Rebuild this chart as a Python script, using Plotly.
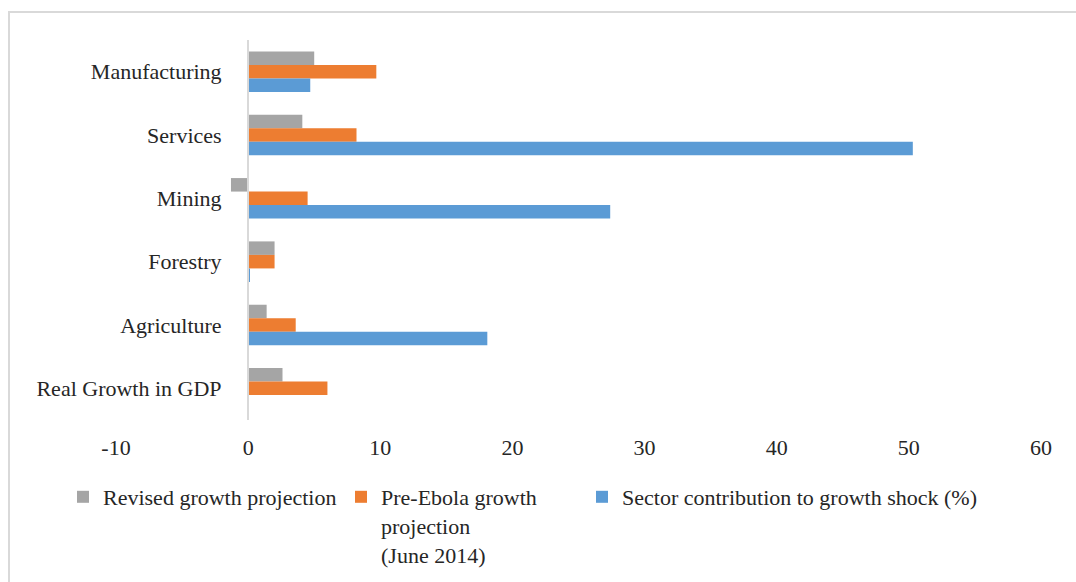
import plotly.graph_objects as go

# Sectors, listed top to bottom
sectors = ["Manufacturing", "Services", "Mining", "Forestry", "Agriculture", "Real Growth in GDP"]

revised = [5.0, 4.1, -1.3, 2.0, 1.4, 2.6]
pre_ebola = [9.7, 8.2, 4.5, 2.0, 3.6, 6.0]
contribution = [4.7, 50.3, 27.4, 0.1, 18.1, None]

x_ticks = [-10, 0, 10, 20, 30, 40, 50, 60]

FONT = "Liberation Serif"
TEXT = "#262626"
FS = 22

# plot area in pixels (x range -10..60 spans 116..1041, categories span 40..420)
W, H = 1076, 582
L, R, T, B = 116, 35, 40, 162
pw, ph = W - L - R, H - T - B


def px(xp):
    return (xp - L) / pw


def py(yp):
    return (H - B - yp) / ph


def cy(yp):
    # container coordinate from a pixel row
    return 1 - yp / H


fig = go.Figure()
fig.add_trace(go.Bar(y=sectors, x=revised, orientation="h", name="Revised growth projection",
                     marker=dict(color="#A5A5A5", line=dict(width=0)), legend="legend"))
fig.add_trace(go.Bar(y=sectors, x=pre_ebola, orientation="h",
                     name="Pre-Ebola growth<br>projection<br>(June 2014)",
                     marker=dict(color="#ED7D31", line=dict(width=0)), legend="legend2"))
fig.add_trace(go.Bar(y=sectors, x=contribution, orientation="h",
                     name="Sector contribution to growth shock (%)",
                     marker=dict(color="#5B9BD5", line=dict(width=0)), legend="legend3"))

legend_common = dict(orientation="h", yanchor="top", xanchor="left",
                     yref="container", y=cy(476), xref="container",
                     font=dict(family=FONT, size=FS, color=TEXT), bgcolor="rgba(0,0,0,0)",
                     valign="top", itemwidth=30, tracegroupgap=0)

fig.update_layout(
    width=W, height=H,
    margin=dict(l=L, r=R, t=T, b=B, autoexpand=False),
    paper_bgcolor="white", plot_bgcolor="white",
    barmode="group", bargap=0.36, bargroupgap=0,
    font=dict(family=FONT, size=FS, color=TEXT),
    showlegend=True,
    legend=dict(x=(103 - 40) / W, **legend_common),
    legend2=dict(x=(381 - 40) / W, **legend_common),
    legend3=dict(x=(622 - 40) / W, **legend_common),
    xaxis=dict(range=[-10, 60], tickvals=x_ticks, ticktext=[str(v) for v in x_ticks],
               showgrid=False, zeroline=False, showline=False, ticks="", automargin=False,
               ticklabelstandoff=12, tickfont=dict(family=FONT, size=FS, color=TEXT)),
    yaxis=dict(autorange="reversed", anchor="free", position=px(248), side="left",
               showgrid=False, zeroline=False, showline=True, linecolor="#D9D9D9", linewidth=2,
               ticks="", ticklabelstandoff=21, automargin=False,
               tickfont=dict(family=FONT, size=FS, color=TEXT)),
    shapes=[dict(type="rect", xref="paper", yref="paper",
                 x0=px(9), x1=px(1090), y0=py(12), y1=py(600),
                 line=dict(color="#D9D9D9", width=2), fillcolor="rgba(0,0,0,0)", layer="below")],
)

fig.write_html("out.html")
